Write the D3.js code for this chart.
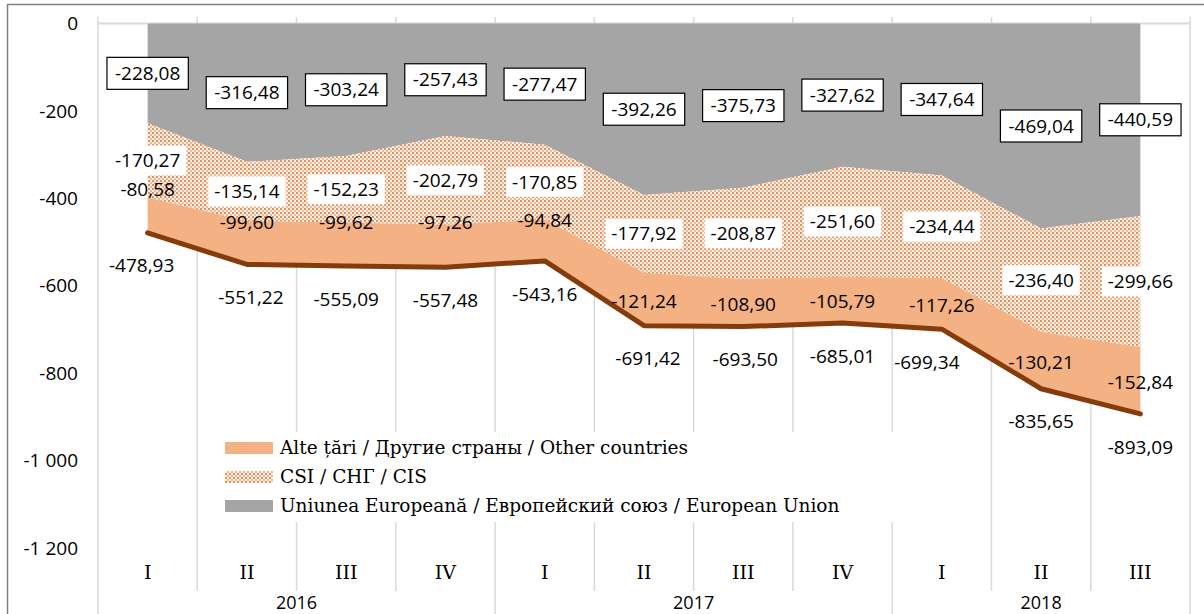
<!DOCTYPE html>
<html>
<head>
<meta charset="utf-8">
<style>
  body { margin: 0; background: #fff; }
  svg { display: block; }
</style>
</head>
<body>
<svg id="svgVis"></svg>
<script src="https://cdn.jsdelivr.net/npm/d3@7"></script>
<script>

var quarters = ["I", "II", "III", "IV", "I", "II", "III", "IV", "I", "II", "III"];
var years = ["2016", "2017", "2018"];
var yearSpans = [4, 4, 3];

var euValues = [-228.08, -316.48, -303.24, -257.43, -277.47, -392.26, -375.73, -327.62, -347.64, -469.04, -440.59];
var cisValues = [-170.27, -135.14, -152.23, -202.79, -170.85, -177.92, -208.87, -251.60, -234.44, -236.40, -299.66];
var otherValues = [-80.58, -99.60, -99.62, -97.26, -94.84, -121.24, -108.90, -105.79, -117.26, -130.21, -152.84];
var totalValues = [-478.93, -551.22, -555.09, -557.48, -543.16, -691.42, -693.50, -685.01, -699.34, -835.65, -893.09];

var yTicks = [0, -200, -400, -600, -800, -1000, -1200];

var legendLabels = [
  "Alte țări / Другие страны / Other countries",
  "CSI / СНГ / CIS",
  "Uniunea Europeană / Европейский союз / European Union"
];

// label nudges (px), as they sit in the original
var otherLabelDy = [-26, -20, -22, -24, -20, 2, 2, 2, 2, 2, 2];
var totalLabelDx = [-6, 4, 0, 0, 0, 4, 2, 0, -15, 0, 0];

var width = 1204, height = 614;
var sansFont = "'Open Sans', sans-serif";
var serifFont = "'DejaVu Serif', serif";

var svg = d3.select("#svgVis")
  .attr("width", width)
  .attr("height", height);

var defs = svg.append("defs");
var pat = defs.append("pattern")
  .attr("id", "dots")
  .attr("patternUnits", "userSpaceOnUse")
  .attr("width", 4)
  .attr("height", 4);
pat.append("rect").attr("width", 4).attr("height", 4).attr("fill", "#fdf1e8");
pat.append("rect").attr("x", 0).attr("y", 0).attr("width", 2).attr("height", 2).attr("fill", "#e3905f");
pat.append("rect").attr("x", 2).attr("y", 2).attr("width", 2).attr("height", 2).attr("fill", "#efb894");

var x = d3.scaleBand()
  .domain(d3.range(quarters.length))
  .range([98, 1190])
  .padding(0);
var bw = x.bandwidth();
function cx(i) { return x(i) + bw / 2; }

var y = d3.scaleLinear()
  .domain([-1200, 0])
  .range([548, 23.5]);

var loc = d3.formatLocale({ decimal: ",", thousands: " ", grouping: [3], currency: ["", ""], minus: "-" });
var fmtTick = loc.format(",d");
var fmtVal = loc.format(".2f");

// outer border (frame of the original figure)
svg.append("line").attr("x1", 7).attr("x2", width).attr("y1", 4.5).attr("y2", 4.5)
  .attr("stroke", "#7f7f7f").attr("stroke-width", 1.5);
svg.append("line").attr("x1", 7.5).attr("x2", 7.5).attr("y1", 4).attr("y2", height)
  .attr("stroke", "#7f7f7f").attr("stroke-width", 1.5);

// vertical separators / gridlines
var bounds = d3.range(quarters.length + 1);
var yearBounds = [0];
yearSpans.reduce(function(a, s) { yearBounds.push(a + s); return a + s; }, 0);

svg.append("g").selectAll("line")
  .data(bounds)
  .enter().append("line")
  .attr("x1", function(d) { return d === quarters.length ? 1190 : x(d); })
  .attr("x2", function(d) { return d === quarters.length ? 1190 : x(d); })
  .attr("y1", 17)
  .attr("y2", function(d) { return yearBounds.indexOf(d) >= 0 ? height : 591; })
  .attr("stroke", "#d9d9d9")
  .attr("stroke-width", 1.5);

// zero axis line
svg.append("line")
  .attr("x1", 98).attr("x2", 1190)
  .attr("y1", y(0)).attr("y2", y(0))
  .attr("stroke", "#d9d9d9").attr("stroke-width", 2);

// stacked areas
var idx = d3.range(quarters.length);
var euArea = d3.area()
  .x(function(i) { return cx(i); })
  .y0(function() { return y(0); })
  .y1(function(i) { return y(euValues[i]); });
var cisArea = d3.area()
  .x(function(i) { return cx(i); })
  .y0(function(i) { return y(euValues[i]); })
  .y1(function(i) { return y(euValues[i] + cisValues[i]); });
var otherArea = d3.area()
  .x(function(i) { return cx(i); })
  .y0(function(i) { return y(euValues[i] + cisValues[i]); })
  .y1(function(i) { return y(euValues[i] + cisValues[i] + otherValues[i]); });

svg.append("path").datum(idx).attr("d", euArea).attr("fill", "#a5a5a5");
svg.append("path").datum(idx).attr("d", cisArea).attr("fill", "url(#dots)");
svg.append("path").datum(idx).attr("d", otherArea).attr("fill", "#f4b183");

// total line
var totalLine = d3.line()
  .x(function(i) { return cx(i); })
  .y(function(i) { return y(totalValues[i]); });
svg.append("path").datum(idx)
  .attr("d", totalLine)
  .attr("fill", "none")
  .attr("stroke", "#843c0c")
  .attr("stroke-width", 5)
  .attr("stroke-linecap", "round")
  .attr("stroke-linejoin", "round");

// y axis labels
svg.append("g").selectAll("text")
  .data(yTicks)
  .enter().append("text")
  .attr("x", 78)
  .attr("y", function(d) { return y(d); })
  .attr("dy", "0.35em")
  .attr("text-anchor", "end")
  .style("font-family", sansFont)
  .style("font-size", "19px")
  .attr("fill", "#000")
  .text(function(d) { return fmtTick(d); });

// category labels
svg.append("g").selectAll("text")
  .data(quarters)
  .enter().append("text")
  .attr("x", function(d, i) { return cx(i); })
  .attr("y", 572)
  .attr("dy", "0.35em")
  .attr("text-anchor", "middle")
  .style("font-family", serifFont)
  .style("font-size", "19px")
  .text(function(d) { return d; });

svg.append("g").selectAll("text")
  .data(years)
  .enter().append("text")
  .attr("x", function(d, i) {
    var a = yearBounds[i], b = yearBounds[i + 1];
    return (x(a) + (b === quarters.length ? 1190 : x(b))) / 2;
  })
  .attr("y", 603)
  .attr("dy", "0.35em")
  .attr("text-anchor", "middle")
  .style("font-family", sansFont)
  .style("font-size", "18px")
  .text(function(d) { return d; });

// data labels
function addLabels(values, posFn, boxed, bg, dxArr) {
  var g = svg.append("g");
  values.forEach(function(v, i) {
    var dx = dxArr ? dxArr[i] : 0;
    var lg = g.append("g").attr("transform", "translate(" + (cx(i) + dx) + "," + posFn(i) + ")");
    var t = lg.append("text")
      .attr("text-anchor", "middle")
      .attr("dy", "0.35em")
      .style("font-family", sansFont)
      .style("font-size", "19px")
      .attr("fill", "#000")
      .text(fmtVal(v));
    if (bg) {
      var w = t.node().getComputedTextLength();
      var padX = boxed ? 8 : 6;
      var h = boxed ? 32 : 30;
      lg.insert("rect", "text")
        .attr("x", -w / 2 - padX)
        .attr("y", -h / 2)
        .attr("width", w + 2 * padX)
        .attr("height", h)
        .attr("fill", "#fff")
        .attr("stroke", boxed ? "#000" : "none")
        .attr("stroke-width", 1.2);
    }
  });
}

addLabels(euValues, function(i) { return y(euValues[i] / 2); }, true, true);
addLabels(cisValues, function(i) { return y(euValues[i] + cisValues[i] / 2); }, false, true);
addLabels(otherValues, function(i) {
  return y(euValues[i] + cisValues[i] + otherValues[i] / 2) + otherLabelDy[i];
}, false, false);
addLabels(totalValues, function(i) { return y(totalValues[i]) + 33; }, false, false, totalLabelDx);

// legend
var legend = svg.append("g");
legend.append("rect")
  .attr("x", 205).attr("y", 432)
  .attr("width", 695).attr("height", 90)
  .attr("fill", "#fff");

var legendFills = ["#f4b183", "url(#dots)", "#a5a5a5"];
var legendRows = legend.selectAll("g.row")
  .data(legendLabels)
  .enter().append("g")
  .attr("class", "row")
  .attr("transform", function(d, i) { return "translate(225," + (448 + i * 29) + ")"; });

legendRows.append("rect")
  .attr("x", 0).attr("y", -6)
  .attr("width", 48).attr("height", 12)
  .attr("fill", function(d, i) { return legendFills[i]; });

legendRows.append("text")
  .attr("x", 55)
  .attr("dy", "0.35em")
  .style("font-family", serifFont)
  .style("font-size", "18.5px")
  .text(function(d) { return d; });

</script>
</body>
</html>
